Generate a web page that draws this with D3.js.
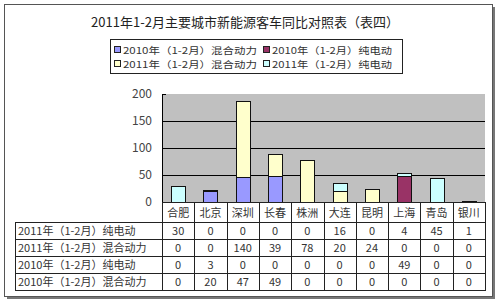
<!DOCTYPE html>
<html>
<head>
<meta charset="utf-8">
<script src="https://cdn.jsdelivr.net/npm/d3@7"></script>
<style>
  body { margin: 0; background: #fff; }
  text { font-family: "Noto Sans CJK SC", "DejaVu Sans", sans-serif; }
</style>
</head>
<body>
<svg id="chart"></svg>
<script>
const cities = ["合肥", "北京", "深圳", "长春", "株洲", "大连", "昆明", "上海", "青岛", "银川"];

const hybrid2010 = [0, 20, 47, 49, 0, 0, 0, 0, 0, 0];
const electric2010 = [0, 3, 0, 0, 0, 0, 0, 49, 0, 0];
const hybrid2011 = [0, 0, 140, 39, 78, 20, 24, 0, 0, 0];
const electric2011 = [30, 0, 0, 0, 0, 16, 0, 4, 45, 1];

const seriesNames = ["2010年（1-2月）混合动力", "2010年（1-2月）纯电动", "2011年（1-2月）混合动力", "2011年（1-2月）纯电动"];
const seriesColors = ["#9999ff", "#993366", "#ffffcc", "#ccffff"];
const yTicks = [0, 50, 100, 150, 200];

const width = 500;
const height = 308;

const svg = d3.select("#chart")
  .attr("width", width)
  .attr("height", height);

// outer frame with shadow
svg.append("rect")
  .attr("x", 7).attr("y", 7).attr("width", 488).attr("height", 292)
  .attr("fill", "#777");
svg.append("rect")
  .attr("x", 4.5).attr("y", 4.5).attr("width", 488).attr("height", 292)
  .attr("fill", "#fff").attr("stroke", "#555");

// title
svg.append("text")
  .attr("x", 245).attr("y", 27)
  .attr("text-anchor", "middle")
  .style("font-size", "13px")
  .attr("fill", "#222")
  .text("2011年1-2月主要城市新能源客车同比对照表（表四）");

// legend
const legend = svg.append("g").attr("transform", "translate(110,39)");
legend.append("rect")
  .attr("x", 0.5).attr("y", 0.5).attr("width", 292).attr("height", 34)
  .attr("fill", "#fff").attr("stroke", "#222");

const legendItems = [0, 1, 2, 3].map(i => ({ name: seriesNames[i], color: seriesColors[i] }));
legendItems.forEach((d, i) => {
  const col = i % 2, row = Math.floor(i / 2);
  const g = legend.append("g").attr("transform", `translate(${4 + col * 149},${11 + row * 14})`);
  g.append("rect")
    .attr("x", 0.5).attr("y", -3.5).attr("width", 6).attr("height", 6)
    .attr("fill", d.color).attr("stroke", "#222");
  g.append("text")
    .attr("x", 9).attr("y", 4)
    .style("font-size", "9.5px")
    .attr("fill", "#333")
    .attr("textLength", d.name.length > 14 ? 134 : 120)
    .attr("lengthAdjust", "spacingAndGlyphs")
    .text(d.name);
});

// plot area
const plotLeft = 162, plotRight = 485, plotTop = 94, plotBottom = 202;

const x = d3.scaleBand()
  .domain(cities)
  .range([plotLeft, plotRight])
  .paddingInner(0)
  .paddingOuter(0);

const y = d3.scaleLinear()
  .domain([0, 200])
  .range([plotBottom, plotTop]);

svg.append("rect")
  .attr("x", plotLeft).attr("y", plotTop)
  .attr("width", plotRight - plotLeft).attr("height", plotBottom - plotTop)
  .attr("fill", "#c0c0c0");

// gridlines
svg.append("g")
  .selectAll("line")
  .data(yTicks.slice(1, -1))
  .enter()
  .append("line")
  .attr("x1", plotLeft).attr("x2", plotRight)
  .attr("y1", d => Math.round(y(d)) + 0.5).attr("y2", d => Math.round(y(d)) + 0.5)
  .attr("stroke", "#000");

// y axis labels
svg.append("g")
  .selectAll("text")
  .data(yTicks)
  .enter()
  .append("text")
  .attr("x", 152)
  .attr("y", d => y(d) + 4)
  .attr("text-anchor", "end")
  .style("font-size", "12px")
  .attr("fill", "#444")
  .text(d => d);

svg.append("line")
  .attr("x1", plotLeft + 0.5).attr("x2", plotLeft + 0.5)
  .attr("y1", plotTop).attr("y2", plotBottom)
  .attr("stroke", "#000");
svg.append("line")
  .attr("x1", plotLeft).attr("x2", plotLeft + 4)
  .attr("y1", plotTop + 0.5).attr("y2", plotTop + 0.5)
  .attr("stroke", "#000");

// stacked bars
const rows = cities.map((c, i) => ({
  city: c,
  h10: hybrid2010[i],
  e10: electric2010[i],
  h11: hybrid2011[i],
  e11: electric2011[i]
}));
const keys = ["h10", "e10", "h11", "e11"];
const stacked = d3.stack().keys(keys)(rows);

const barW = 14;
svg.append("g")
  .selectAll("g")
  .data(stacked)
  .enter()
  .append("g")
  .attr("fill", (d, i) => seriesColors[i])
  .selectAll("rect")
  .data(d => d.filter(s => s[1] > s[0]))
  .enter()
  .append("rect")
  .attr("x", d => Math.round(x(d.data.city) + x.bandwidth() / 2 - barW / 2) + 0.5)
  .attr("y", d => Math.round(y(d[1])) + 0.5)
  .attr("width", barW)
  .attr("height", d => Math.max(1, Math.round(y(d[0])) - Math.round(y(d[1]))))
  .attr("stroke", "#111")
  .attr("stroke-width", 1);

// data table
const tableLeft = 15;
const headerTop = 202, headerBottom = 222;
const rowH = 17;
const tableRows = [
  { name: seriesNames[3], values: electric2011 },
  { name: seriesNames[2], values: hybrid2011 },
  { name: seriesNames[1], values: electric2010 },
  { name: seriesNames[0], values: hybrid2010 }
];
const tableBottom = headerBottom + rowH * tableRows.length;

const table = svg.append("g");

// header cells
table.append("rect")
  .attr("x", plotLeft + 0.5).attr("y", headerTop + 0.5)
  .attr("width", plotRight - plotLeft).attr("height", headerBottom - headerTop)
  .attr("fill", "#fff").attr("stroke", "#222");
table.selectAll(".hdr")
  .data(cities)
  .enter()
  .append("text")
  .attr("class", "hdr")
  .attr("x", d => x(d) + x.bandwidth() / 2)
  .attr("y", headerTop + 15)
  .attr("text-anchor", "middle")
  .style("font-size", "11px")
  .attr("fill", "#333")
  .text(d => d);

// body frame
table.append("rect")
  .attr("x", tableLeft + 0.5).attr("y", headerBottom + 0.5)
  .attr("width", plotRight - tableLeft).attr("height", tableBottom - headerBottom)
  .attr("fill", "#fff").attr("stroke", "#222");

tableRows.forEach((r, i) => {
  const top = headerBottom + i * rowH;
  if (i > 0) {
    table.append("line")
      .attr("x1", tableLeft).attr("x2", plotRight)
      .attr("y1", top + 0.5).attr("y2", top + 0.5)
      .attr("stroke", "#222");
  }
  table.append("text")
    .attr("x", tableLeft + 3)
    .attr("y", top + 13)
    .style("font-size", "11px")
    .attr("fill", "#333")
    .text(r.name);
  table.selectAll(null)
    .data(r.values)
    .enter()
    .append("text")
    .attr("x", (d, j) => x(cities[j]) + x.bandwidth() / 2)
    .attr("y", top + 13)
    .attr("text-anchor", "middle")
    .style("font-size", "11px")
    .attr("fill", "#333")
    .text(d => d);
});

// column separators
cities.forEach(c => {
  table.append("line")
    .attr("x1", Math.round(x(c)) + 0.5).attr("x2", Math.round(x(c)) + 0.5)
    .attr("y1", headerTop).attr("y2", tableBottom)
    .attr("stroke", "#222");
});
</script>
</body>
</html>
